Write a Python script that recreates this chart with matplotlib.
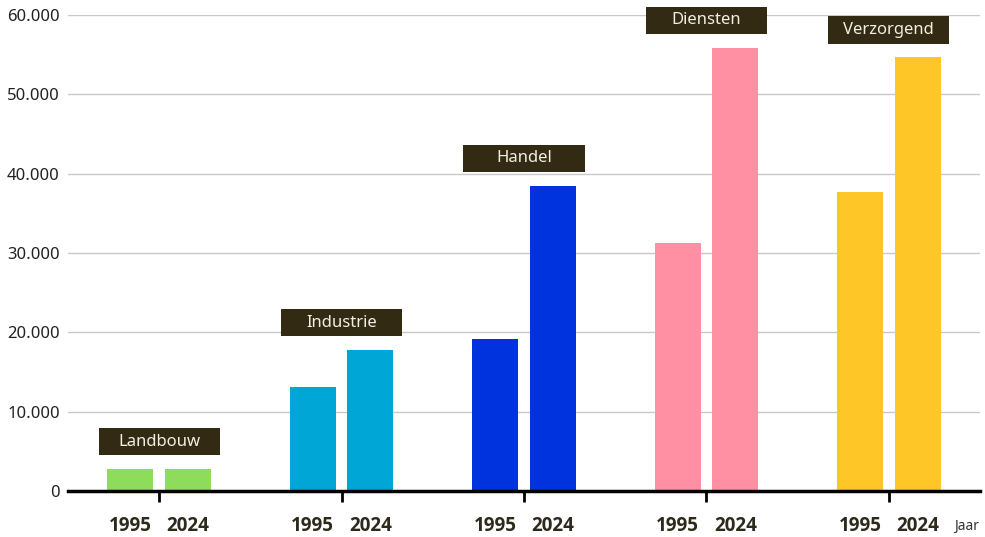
import matplotlib.pyplot as plt
import matplotlib.ticker as mticker
from matplotlib.patches import Rectangle
import numpy as np

plt.rcParams['font.family'] = ['Noto Sans', 'DejaVu Sans']

sectors = ["Landbouw", "Industrie", "Handel", "Diensten", "Verzorgend"]
years = ["1995", "2024"]
values_1995 = [2800, 13100, 19200, 31300, 37700]
values_2024 = [2800, 17800, 38500, 55900, 54700]
colors = ["#8fdc5a", "#00a6d6", "#0033dd", "#ff8fa3", "#fec627"]
yticks = [0, 10000, 20000, 30000, 40000, 50000, 60000]

fig = plt.figure(figsize=(9.85, 5.37), dpi=100)
ax = fig.add_axes([68 / 985, 46 / 537, 912 / 985, 476 / 537])

x = np.arange(len(sectors))
off = 0.158
w = 0.252
ax.bar(x - off, values_1995, width=w, color=colors, zorder=3)
ax.bar(x + off, values_2024, width=w, color=colors, zorder=3)

# category labels in dark boxes above the tallest bar
box_w = 0.664
for xi, name, a, b in zip(x, sectors, values_1995, values_2024):
    top = max(a, b)
    ax.add_patch(Rectangle((xi - box_w / 2, top + 1700), box_w, 3450,
                           facecolor="#322a12", edgecolor="none", zorder=4,
                           clip_on=False))
    ax.text(xi, top + 1700 + 3450 / 2, name, color="#f2eee2", fontsize=12,
            ha="center", va="center", zorder=5)

ax.set_xlim(-0.5, 4.5)
ax.set_ylim(0, 60000)
ax.set_yticks(yticks)
ax.yaxis.set_major_formatter(mticker.FuncFormatter(
    lambda v, p: "0" if v == 0 else f"{int(v):,}".replace(",", ".")))
ax.tick_params(axis="y", length=0, pad=6, labelsize=12, labelcolor="#222222")
ax.grid(axis="y", color="#c8c8c8", linewidth=1, zorder=0)

ax.set_xticks(x)
ax.set_xticklabels([])
ax.tick_params(axis="x", which="major", length=8, width=2, color="black")
minor_pos = np.sort(np.concatenate([x - off, x + off]))
ax.set_xticks(minor_pos, minor=True)
ax.set_xticklabels(years * len(sectors), minor=True)
ax.tick_params(axis="x", which="minor", length=0, pad=18, labelsize=13.5,
               labelcolor="#2d2a1c")
for lbl in ax.xaxis.get_minorticklabels():
    lbl.set_fontfamily("Open Sans")
    lbl.set_fontweight("bold")

for s in ["top", "right", "left"]:
    ax.spines[s].set_visible(False)
ax.spines["bottom"].set_linewidth(2.5)
ax.spines["bottom"].set_zorder(6)

ax.text(0.985, -0.075, "Jaar", transform=ax.transAxes, fontsize=10,
        color="#333333", ha="center", va="center")

fig.savefig("out.png", dpi=100)
